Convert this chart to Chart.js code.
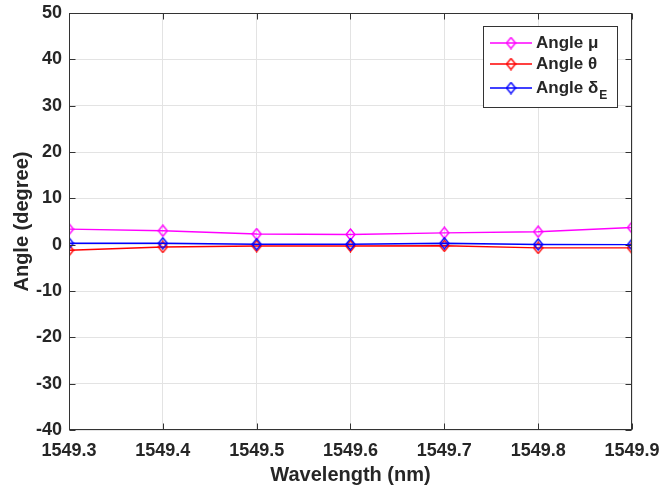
<!DOCTYPE html>
<html>
<head>
<meta charset="utf-8">
<script src="https://cdn.jsdelivr.net/npm/chart.js@4/dist/chart.umd.min.js"></script>
<style>
  html, body { margin: 0; padding: 0; background: #ffffff; }
  #wrap { width: 660px; height: 487px; position: relative; }
</style>
</head>
<body>
<div id="wrap"><canvas id="chartAngle"></canvas></div>
<script>
// data
const wavelengths = [1549.3, 1549.4, 1549.5, 1549.6, 1549.7, 1549.8, 1549.9];
const angleMu = [3.35, 3.0, 2.3, 2.2, 2.55, 2.8, 3.7];
const angleTheta = [-1.2, -0.5, -0.3, -0.3, -0.25, -0.7, -0.7];
const angleDelta = [0.3, 0.3, 0.1, 0.1, 0.3, 0.05, 0.0];
const seriesNames = ["Angle μ", "Angle θ", "Angle δ_E"];
const seriesColors = ["#ff00ff", "#ff0000", "#0000ff"];
const yTicks = [-40, -30, -20, -10, 0, 10, 20, 30, 40, 50];

const axisColor = "#333333";
const textColor = "#262626";

// hollow diamond marker like matlab 'd'
function makeDiamond(color) {
    const c = document.createElement("canvas");
    c.width = 11;
    c.height = 13;
    const g = c.getContext("2d");
    g.strokeStyle = color;
    g.lineWidth = 1.4;
    g.beginPath();
    g.moveTo(5.5, 1);
    g.lineTo(10, 6.5);
    g.lineTo(5.5, 12);
    g.lineTo(1, 6.5);
    g.closePath();
    g.stroke();
    return c;
}

function toPoints(ys) {
    return wavelengths.map((x, i) => ({ x: x, y: ys[i] }));
}

const boxPlugin = {
    id: "boxPlugin",
    afterDatasetsDraw(chart) {
        const ctx = chart.ctx;
        const a = chart.chartArea;
        const l = Math.floor(a.left) + 0.5, r = Math.floor(a.right) - 0.5;
        const t = Math.floor(a.top) + 0.5, b = Math.floor(a.bottom) - 0.5;
        const xs = chart.scales.x, ys = chart.scales.y;
        ctx.save();
        ctx.strokeStyle = axisColor;
        ctx.lineWidth = 1;
        ctx.strokeRect(l, t, r - l, b - t);
        ctx.beginPath();
        const tl = 6;
        wavelengths.forEach(v => {
            const px = Math.round(xs.getPixelForValue(v)) + 0.5;
            ctx.moveTo(px, b); ctx.lineTo(px, b - tl);
            ctx.moveTo(px, t); ctx.lineTo(px, t + tl);
        });
        yTicks.forEach(v => {
            const py = Math.round(ys.getPixelForValue(v)) + 0.5;
            ctx.moveTo(l, py); ctx.lineTo(l + tl, py);
            ctx.moveTo(r, py); ctx.lineTo(r - tl, py);
        });
        ctx.stroke();
        ctx.restore();
    },
    afterDraw(chart) {
        // legend box with subscript
        const ctx = chart.ctx;
        const bx = 483.5, by = 26.5, bw = 134, bh = 81;
        ctx.save();
        ctx.fillStyle = "#ffffff";
        ctx.fillRect(bx, by, bw, bh);
        ctx.strokeStyle = axisColor;
        ctx.lineWidth = 1;
        ctx.strokeRect(bx, by, bw, bh);
        const rows = [43, 64, 88];
        chart.data.datasets.forEach((ds, i) => {
            const y = rows[i];
            ctx.strokeStyle = ds.borderColor;
            ctx.lineWidth = 1.4;
            ctx.beginPath();
            ctx.moveTo(490, y); ctx.lineTo(532, y);
            ctx.stroke();
            const img = ds.pointStyle;
            ctx.drawImage(img, 511 - img.width / 2, y - img.height / 2);
            const parts = ds.label.split("_");
            ctx.fillStyle = textColor;
            ctx.font = "bold 17px 'Liberation Sans', Arial, sans-serif";
            ctx.textBaseline = "middle";
            ctx.textAlign = "left";
            ctx.fillText(parts[0], 536, y);
            if (parts[1]) {
                const w = ctx.measureText(parts[0]).width;
                ctx.font = "bold 12px 'Liberation Sans', Arial, sans-serif";
                ctx.fillText(parts[1], 536 + w + 1, y + 8);
            }
        });
        ctx.restore();
    }
};

const seriesData = [angleMu, angleTheta, angleDelta];

new Chart(document.getElementById("chartAngle"), {
    type: "line",
    data: {
        datasets: seriesData.map((d, i) => ({
            label: seriesNames[i],
            data: toPoints(d),
            borderColor: seriesColors[i],
            backgroundColor: seriesColors[i],
            borderWidth: 1.4,
            pointStyle: makeDiamond(seriesColors[i]),
            pointRadius: 5,
            tension: 0,
            fill: false,
            order: 3 - i
        }))
    },
    options: {
        responsive: true,
        maintainAspectRatio: false,
        animation: false,
        layout: { padding: { top: 13, right: 28, left: 0, bottom: 0 } },
        plugins: { legend: { display: false }, tooltip: { enabled: false } },
        scales: {
            x: {
                type: "linear",
                min: 1549.3,
                max: 1549.9,
                afterBuildTicks: s => { s.ticks = wavelengths.map(v => ({ value: v })); },
                afterFit: s => { s.height = 57; s.paddingLeft = 0; s.paddingRight = 0; },
                grid: { color: "#e3e3e3", drawTicks: false },
                border: { display: false },
                ticks: {
                    padding: 10,
                    maxRotation: 0,
                    color: textColor,
                    font: { family: "'Liberation Sans', Arial, sans-serif", size: 18, weight: "bold" },
                    callback: v => Number(v).toFixed(1)
                },
                title: {
                    display: true,
                    text: "Wavelength (nm)",
                    color: textColor,
                    padding: { top: 0, bottom: 0 },
                    font: { family: "'Liberation Sans', Arial, sans-serif", size: 20, weight: "bold" }
                }
            },
            y: {
                min: -40,
                max: 50,
                afterBuildTicks: s => { s.ticks = yTicks.map(v => ({ value: v })); },
                afterFit: s => { s.width = 69; s.paddingTop = 0; s.paddingBottom = 0; },
                grid: { color: "#e3e3e3", drawTicks: false },
                border: { display: false },
                ticks: {
                    padding: 7,
                    color: textColor,
                    font: { family: "'Liberation Sans', Arial, sans-serif", size: 18, weight: "bold" }
                },
                title: {
                    display: true,
                    text: "Angle (degree)",
                    color: textColor,
                    padding: { top: 10, bottom: 0 },
                    font: { family: "'Liberation Sans', Arial, sans-serif", size: 20, weight: "bold" }
                }
            }
        }
    },
    plugins: [boxPlugin]
});
</script>
</body>
</html>
